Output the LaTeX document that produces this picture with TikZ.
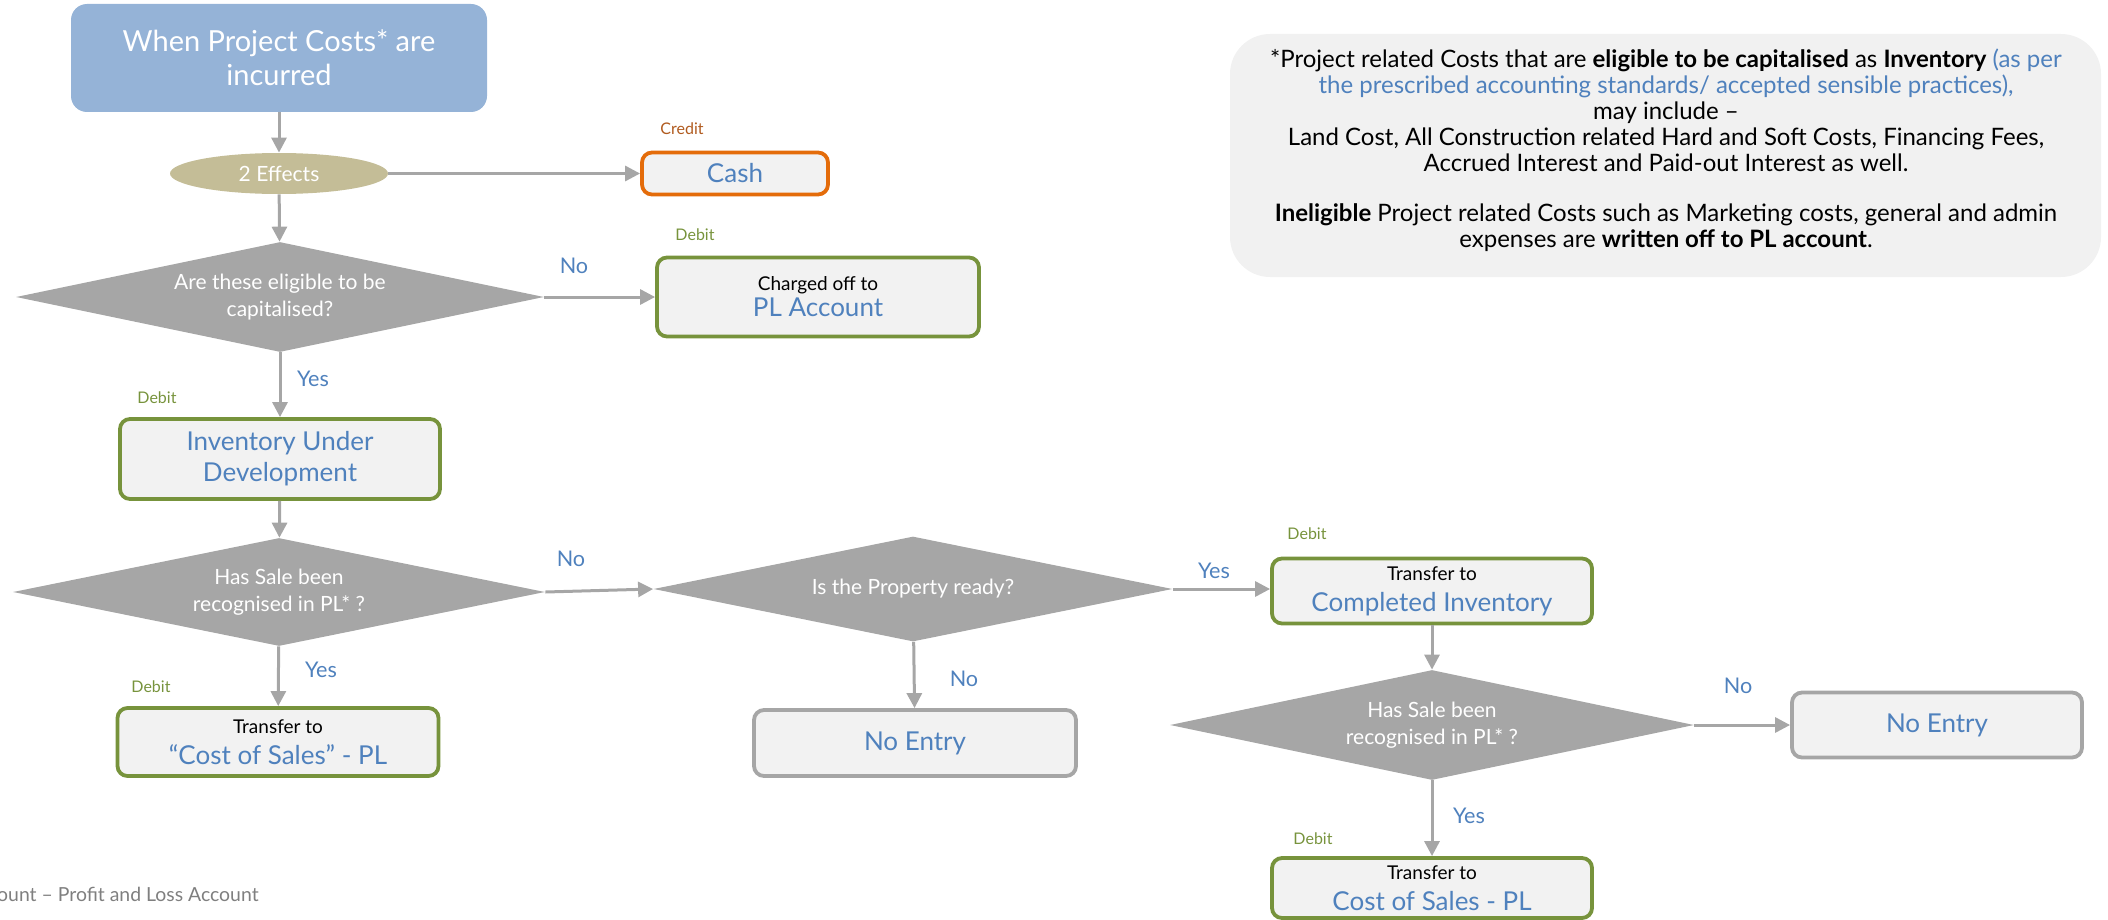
\documentclass[tikz,border=0pt]{standalone}
\usepackage{fontspec}
\setmainfont{Lato}
\usetikzlibrary{shapes.geometric,arrows.meta}
\definecolor{topblue}{HTML}{95B3D7}
\definecolor{tanfill}{HTML}{C4BD97}
\definecolor{dgray}{HTML}{A6A6A6}
\definecolor{boxfill}{HTML}{F2F2F2}
\definecolor{bgreen}{HTML}{77933C}
\definecolor{borange}{HTML}{E46C0A}
\definecolor{tblue}{HTML}{4F81BD}
\definecolor{credcol}{HTML}{B05A1E}
\definecolor{footgray}{HTML}{7F7F7F}
\definecolor{notefill}{HTML}{F1F1F1}
\newcommand{\blacktxt}[1]{{\fontsize{9.5}{11}\selectfont #1}}
\newcommand{\bluetxt}[1]{{\color{tblue}\fontsize{13}{15}\selectfont #1}}
\begin{document}
\begin{tikzpicture}[x=0.5pt,y=-0.5pt,
  box/.style={rectangle, rounded corners=5pt, fill=boxfill, line width=1.9pt, align=center, inner sep=0pt},
  gbox/.style={box, draw=bgreen},
  obox/.style={box, draw=borange},
  graybox/.style={box, draw=dgray},
  dia/.style={diamond, fill=dgray, inner sep=0pt},
  dtext/.style={text=white, align=center, font=\fontsize{10.5}{13.5}\selectfont},
  arr/.style={draw=dgray, line width=1.5pt, -{Triangle[length=7.5pt,width=7.5pt]}},
  lbl/.style={text=tblue, font=\fontsize{10.8}{13}\selectfont},
  small/.style={font=\fontsize{8}{10}\selectfont},
  debit/.style={small, text=bgreen},
  bluebig/.style={text=tblue, font=\fontsize{13}{15.5}\selectfont}
]
\useasboundingbox (0,0) rectangle (2108,920);

% note box
\node[rectangle, rounded corners=20pt, fill=notefill, minimum width=435.5pt, minimum height=121.5pt, inner sep=0pt] (note) at (1665.5,155.5) {};
\node[align=center, inner sep=0pt, font=\fontsize{12}{13}\selectfont] (notetext) at (1666,150)
  {*Project related Costs that are \textbf{eligible to be capitalised} as \textbf{Inventory} \textcolor{tblue}{(as per}\\
   \textcolor{tblue}{the prescribed accounting standards/ accepted sensible practices),}\\
   may include --\\
   Land Cost, All Construction related Hard and Soft Costs, Financing Fees,\\
   Accrued Interest and Paid-out Interest as well.\\[12pt]
   \textbf{Ineligible} Project related Costs such as Marketing costs, general and admin\\
   expenses are \textbf{written off to PL account}.};

% top
\node[rectangle, rounded corners=8pt, fill=topblue, minimum width=208pt, minimum height=54pt, inner sep=0pt, align=center,
  text=white, font=\fontsize{14.5}{17}\selectfont] (top) at (279,58) {When Project Costs* are\\incurred};

\node[ellipse, fill=tanfill, minimum width=109pt, minimum height=20.5pt, inner sep=0pt, text=white,
  font=\fontsize{10.5}{12}\selectfont] (eff) at (279,173.5) {2 Effects};

\node[obox, minimum width=93pt, minimum height=21pt] (cash) at (735,173.5) {\bluetxt{Cash}};
\node[small, text=credcol] (credit) at (682,129) {Credit};

\node[dia, minimum width=264pt, minimum height=55pt,
  label={[dtext]center:Are these eligible to be\\capitalised?}] (d1) at (280,297) {};

\node[gbox, minimum width=161pt, minimum height=39.5pt] (pl) at (818,297)
  {\blacktxt{Charged off to}\\[1pt]\bluetxt{PL Account}};
\node[debit] (deb1) at (695,235) {Debit};
\node[lbl] (no1) at (574,266) {No};

\node[lbl] (yes1) at (313,379) {Yes};
\node[debit] (deb2) at (157,398) {Debit};
\node[gbox, minimum width=160pt, minimum height=40pt, bluebig] (inv) at (280,459) {Inventory Under\\Development};

\node[dia, minimum width=266pt, minimum height=54pt,
  label={[dtext]center:Has Sale been\\recognised in PL* ?}] (d2) at (279,592) {};
\node[lbl] (no2) at (571,559) {No};

\node[dia, minimum width=259.5pt, minimum height=52.5pt,
  label={[dtext]center:Is the Property ready?}] (d3) at (913,589) {};
\node[lbl] (yes2) at (1214,571) {Yes};

\node[gbox, minimum width=160pt, minimum height=32.5pt] (comp) at (1432,591)
  {\blacktxt{Transfer to}\\[3.5pt]\bluetxt{Completed Inventory}};
\node[debit] (deb3) at (1307,534) {Debit};

\node[lbl] (no3) at (964,679) {No};
\node[graybox, minimum width=161pt, minimum height=33pt, bluebig] (ne1) at (915,743) {No Entry};

\node[lbl] (yes3) at (321,670) {Yes};
\node[debit] (deb4) at (151,687) {Debit};
\node[gbox, minimum width=160.5pt, minimum height=34pt] (cos1) at (278,742)
  {\blacktxt{Transfer to}\\[3.5pt]\bluetxt{``Cost of Sales'' - PL}};

\node[dia, minimum width=262pt, minimum height=55pt,
  label={[dtext]center:Has Sale been\\recognised in PL* ?}] (d4) at (1432,725) {};
\node[lbl] (no4) at (1738,686) {No};
\node[graybox, minimum width=145pt, minimum height=32.5pt, bluebig] (ne2) at (1937,725) {No Entry};

\node[lbl] (yes4) at (1469,816) {Yes};
\node[debit] (deb5) at (1313,839) {Debit};
\node[gbox, minimum width=160pt, minimum height=30pt] (cos2) at (1432,888)
  {\blacktxt{Transfer to}\\[3.5pt]\bluetxt{Cost of Sales - PL}};

\node[anchor=east, inner sep=0pt, text=footgray, font=\fontsize{9.7}{11}\selectfont] (foot) at (259,894) {ount -- Profit and Loss Account};

% connectors
\draw[arr] (top) -- (eff);
\draw[arr] (eff) -- (cash);
\draw[arr] (eff) -- (d1);
\draw[arr] (d1.east) -- (pl.west);
\draw[arr] (d1) -- (inv);
\draw[arr] (inv) -- (d2);
\draw[arr] (d2.east) -- (d3.west);
\draw[arr] (d3.east) -- (d3.east -| comp.west);
\draw[arr] (d3) -- (ne1);
\draw[arr] (d2) -- (cos1);
\draw[arr] (comp) -- (d4);
\draw[arr] (d4.east) -- (ne2.west);
\draw[arr] (d4) -- (cos2);
\end{tikzpicture}
\end{document}
